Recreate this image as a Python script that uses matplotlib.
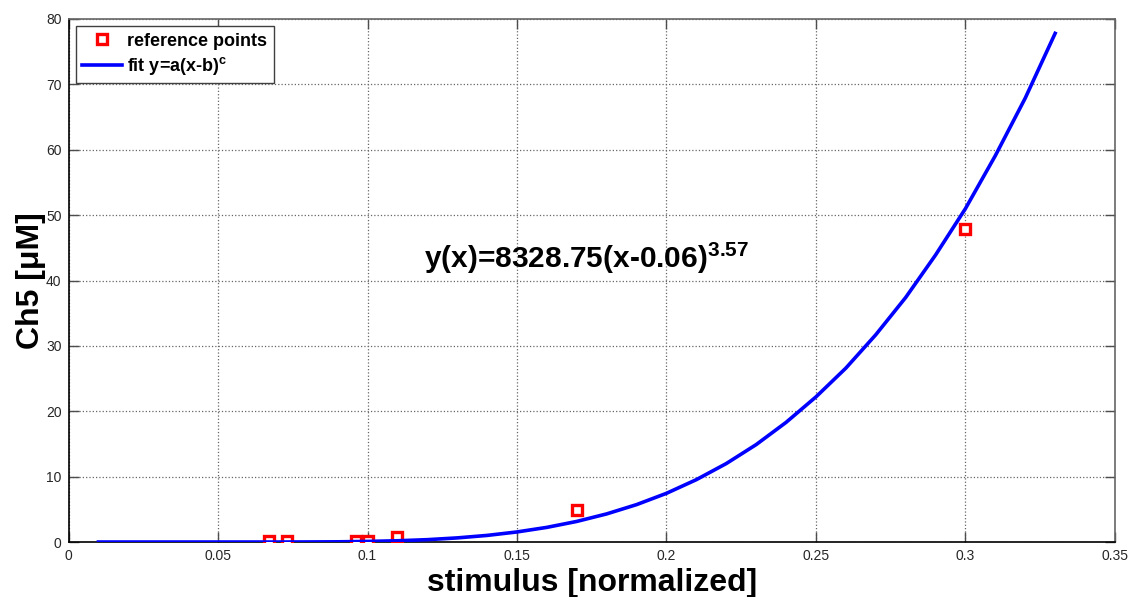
import matplotlib
matplotlib.use('Agg')
import matplotlib.pyplot as plt

plt.rcParams['font.family'] = ['Liberation Sans', 'DejaVu Sans']
plt.rcParams['mathtext.fontset'] = 'custom'
plt.rcParams['mathtext.rm'] = 'Liberation Sans'
plt.rcParams['mathtext.bf'] = 'Liberation Sans:bold'

# measured reference points
ref_x = [0.067, 0.073, 0.096, 0.100, 0.110, 0.170, 0.300]
ref_y = [0.2, 0.2, 0.2, 0.2, 0.7, 4.9, 47.9]

# fitted curve
fit_x = [0.01, 0.02, 0.03, 0.04, 0.05, 0.06, 0.07, 0.08, 0.09, 0.10, 0.11,
         0.12, 0.13, 0.14, 0.15, 0.16, 0.17, 0.18, 0.19, 0.20, 0.21, 0.22,
         0.23, 0.24, 0.25, 0.26, 0.27, 0.28, 0.29, 0.30, 0.31, 0.32, 0.33]
fit_y = [0.0, 0.0, 0.0, 0.0, 0.0, 0.0, 0.0, 0.01, 0.03, 0.09, 0.19,
         0.36, 0.63, 1.01, 1.54, 2.24, 3.15, 4.30, 5.72, 7.45, 9.54, 12.0,
         14.9, 18.3, 22.2, 26.6, 31.7, 37.4, 43.9, 51.0, 59.1, 67.9, 77.8]

x_ticks = [0, 0.05, 0.1, 0.15, 0.2, 0.25, 0.3, 0.35]
x_ticklabels = ['0', '0.05', '0.1', '0.15', '0.2', '0.25', '0.3', '0.35']
y_ticks = [0, 10, 20, 30, 40, 50, 60, 70, 80]

fig = plt.figure(figsize=(11.31, 5.97), dpi=100)
ax = fig.add_axes([0.0606, 0.0921, 0.9252, 0.8761])

ax.plot(ref_x, ref_y, 's', color='red', markersize=6.5, markeredgewidth=2.4,
        markerfacecolor='white', label='reference points', zorder=3)
ax.plot(fit_x, fit_y, '-', color='#0000ff', linewidth=2.6,
        label=r'fit y=a(x-b)$^{\mathbf{c}}$', zorder=4)

ax.set_xlim(0, 0.35)
ax.set_ylim(0, 80)
ax.set_xticks(x_ticks)
ax.set_xticklabels(x_ticklabels)
ax.set_yticks(y_ticks)

ax.grid(True, linestyle=':', color='0.4', linewidth=0.9)
ax.tick_params(direction='in', length=7, width=1, color='0.3',
               top=True, right=True, labelsize=10, labelcolor='0.15', pad=5)
for side in ['left', 'bottom']:
    ax.spines[side].set_color('black')
    ax.spines[side].set_linewidth(1.2)
for side in ['top', 'right']:
    ax.spines[side].set_color('0.4')
    ax.spines[side].set_linewidth(1.2)

ax.set_xlabel('stimulus [normalized]', fontsize=23, fontweight='bold')
ax.set_ylabel('Ch5 [μM]', fontsize=23, fontweight='bold')
ax.xaxis.set_label_coords(0.5, -0.05)
ax.yaxis.set_label_coords(-0.022, 0.5)

ax.text(0.119, 41.9, r'y(x)=8328.75(x-0.06)$^{\mathbf{3.57}}$',
        fontsize=21.5, fontweight='bold', ha='left', va='baseline')

leg = ax.legend(loc='upper left', prop={'weight': 'bold', 'size': 13},
                fancybox=False, edgecolor='0.25', framealpha=1,
                borderaxespad=0.4, handlelength=2.2, borderpad=0.35,
                handletextpad=0.3, labelspacing=0.3)
leg.get_frame().set_linewidth(1.0)

fig.savefig('out.png', dpi=100)
